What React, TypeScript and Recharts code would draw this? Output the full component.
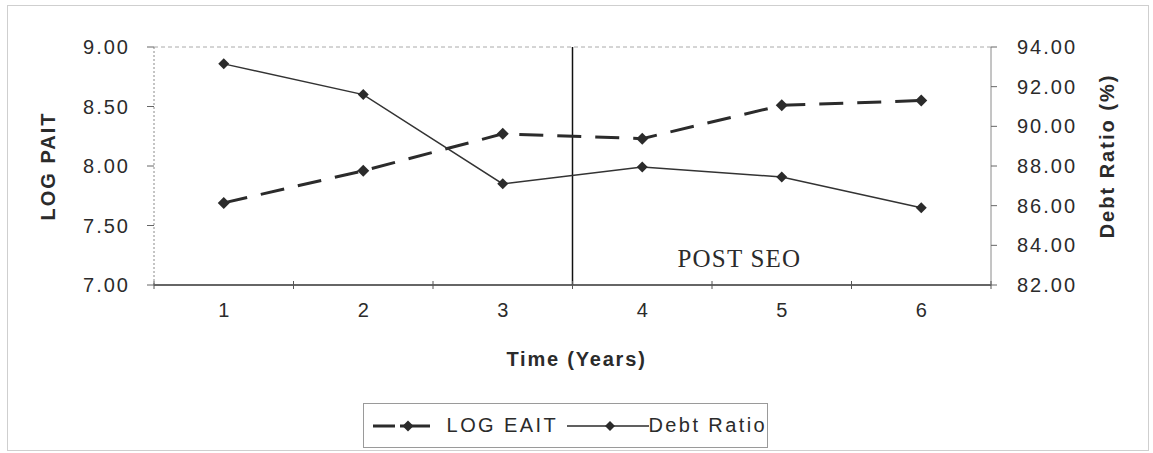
import { Legend, Line, LineChart, ReferenceLine, XAxis, YAxis } from 'recharts';

// values
const years = [1, 2, 3, 4, 5, 6];
const logEait = [7.69, 7.96, 8.27, 8.23, 8.51, 8.55];
const debtRatio = [93.15, 91.6, 87.1, 87.95, 87.45, 85.9];
const leftTicks = [7, 7.5, 8, 8.5, 9];
const rightTicks = [82, 84, 86, 88, 90, 92, 94];
const seoBoundary = 3.5;

const data = years.map((year, i) => ({ year, logEait: logEait[i], debtRatio: debtRatio[i] }));

const W = 1153;
const H = 453;
const LEFT_W = 154;
const RIGHT_W = 162;
const X_H = 168;
const STEP = (W - LEFT_W - RIGHT_W) / years.length;

const INK = '#2b2b2b';
const SANS = '"Liberation Sans", Arial, sans-serif';
const SERIF = '"Liberation Serif", "Times New Roman", serif';

function Diamond({ cx, cy, r = 5.5 }: any) {
  if (cx == null || cy == null) return null;
  return <path d={`M${cx},${cy - r}L${cx + r},${cy}L${cx},${cy + r}L${cx - r},${cy}Z`} fill={INK} />;
}

// Excel-style category ticks: marks between the categories, labels in the middle
function XTick({ x, y, payload, index }: any) {
  const half = STEP / 2;
  return (
    <g>
      <line x1={x - half} x2={x - half} y1={y - 4} y2={y + 4} stroke="#555" />
      {index === years.length - 1 && <line x1={x + half} x2={x + half} y1={y - 4} y2={y + 4} stroke="#555" />}
      <text x={x} y={y + 32} textAnchor="middle" fontFamily={SANS} fontSize={20} fill={INK}>
        {payload.value}
      </text>
    </g>
  );
}

function LegendBox() {
  return (
    <div
      style={{
        boxSizing: 'border-box',
        width: 405,
        height: 45,
        border: '1px solid #9a9a9a',
        background: '#fff',
        display: 'flex',
        alignItems: 'center',
        paddingLeft: 9,
        fontFamily: SANS,
        fontSize: 20,
        letterSpacing: 2.4,
        color: INK,
        whiteSpace: 'nowrap',
      }}
    >
      <svg width={57} height={20} style={{ display: 'block' }}>
        <line x1={0} x2={57} y1={10} y2={10} stroke={INK} strokeWidth={3} strokeDasharray="22 5 40" />
        <Diamond cx={35} cy={10} r={5.5} />
      </svg>
      <span style={{ marginLeft: 17 }}>LOG EAIT</span>
      <svg width={82} height={20} style={{ display: 'block', marginLeft: 9 }}>
        <line x1={0} x2={82} y1={10} y2={10} stroke={INK} strokeWidth={1.5} />
        <Diamond cx={43} cy={10} r={5} />
      </svg>
      <span>Debt Ratio</span>
    </div>
  );
}

const tickText = { fill: INK, fontSize: 20, fontFamily: SANS, letterSpacing: 2 };

export default function App() {
  return (
    <div style={{ position: 'absolute', left: 0, top: 0, width: W, height: H, background: '#fff' }}>
      <div
        style={{
          position: 'absolute',
          left: 7,
          top: 5,
          width: 1140,
          height: 444,
          border: '1px solid #cfcfcf',
        }}
      />
      <div style={{ position: 'absolute', left: 0, top: 0 }}>
        <LineChart width={W} height={H} data={data} margin={{ top: 47, right: 0, bottom: 0, left: 0 }}>
          <XAxis
            dataKey="year"
            type="number"
            domain={[0.5, 6.5]}
            ticks={years}
            height={X_H}
            tickSize={0}
            tickMargin={0}
            tickLine={false}
            axisLine={{ stroke: '#333', strokeWidth: 1.3 }}
            tick={(p: any) => <XTick {...p} />}
            label={{
              content: ({ viewBox }: any) => (
                <text
                  x={viewBox.x + viewBox.width / 2 + 4}
                  y={viewBox.y + 81}
                  textAnchor="middle"
                  fontFamily={SANS}
                  fontSize={20}
                  fontWeight="bold"
                  letterSpacing={1.8}
                  fill={INK}
                >
                  Time (Years)
                </text>
              ),
            }}
          />
          <YAxis
            yAxisId="left"
            domain={[7, 9]}
            ticks={leftTicks}
            width={LEFT_W}
            tickSize={7}
            tickMargin={17}
            tickFormatter={(v: number) => v.toFixed(2)}
            tick={tickText}
            tickLine={{ stroke: '#666' }}
            axisLine={{ stroke: '#8a8a8a', strokeDasharray: '2 2' }}
            label={{
              content: ({ viewBox }: any) => (
                <text
                  transform={`translate(${viewBox.x + 48}, ${viewBox.y + viewBox.height / 2}) rotate(-90)`}
                  textAnchor="middle"
                  dominantBaseline="central"
                  fontFamily={SANS}
                  fontSize={20}
                  fontWeight="bold"
                  letterSpacing={2}
                  fill={INK}
                >
                  LOG PAIT
                </text>
              ),
            }}
          />
          <YAxis
            yAxisId="right"
            orientation="right"
            domain={[82, 94]}
            ticks={rightTicks}
            width={RIGHT_W}
            tickSize={6}
            tickMargin={20}
            tickFormatter={(v: number) => v.toFixed(2)}
            tick={tickText}
            tickLine={{ stroke: '#666' }}
            axisLine={{ stroke: '#8a8a8a' }}
            label={{
              content: ({ viewBox }: any) => (
                <text
                  transform={`translate(${viewBox.x + 116}, ${viewBox.y + viewBox.height / 2 - 10}) rotate(-90)`}
                  textAnchor="middle"
                  dominantBaseline="central"
                  fontFamily={SANS}
                  fontSize={20}
                  fontWeight="bold"
                  letterSpacing={2}
                  fill={INK}
                >
                  Debt Ratio (%)
                </text>
              ),
            }}
          />
          <ReferenceLine yAxisId="left" y={9} stroke="#aaa" strokeDasharray="4 3" />
          <ReferenceLine
            yAxisId="left"
            x={seoBoundary}
            stroke="#111"
            strokeWidth={1.5}
            label={{
              content: ({ viewBox }: any) => (
                <text
                  x={viewBox.x + 105}
                  y={viewBox.y + viewBox.height - 18}
                  fontFamily={SERIF}
                  fontSize={25}
                  letterSpacing={1.2}
                  fill={INK}
                >
                  POST SEO
                </text>
              ),
            }}
          />
          <Line
            yAxisId="left"
            type="linear"
            dataKey="logEait"
            name="LOG EAIT"
            stroke={INK}
            strokeWidth={3}
            strokeDasharray="24 14"
            dot={(p: any) => <Diamond key={`e${p.index}`} cx={p.cx} cy={p.cy} r={6} />}
            activeDot={false}
            isAnimationActive={false}
          />
          <Line
            yAxisId="right"
            type="linear"
            dataKey="debtRatio"
            name="Debt Ratio"
            stroke="#333"
            strokeWidth={1.5}
            dot={(p: any) => <Diamond key={`d${p.index}`} cx={p.cx} cy={p.cy} r={5.5} />}
            activeDot={false}
            isAnimationActive={false}
          />
          <Legend
            layout="horizontal"
            verticalAlign="middle"
            align="center"
            wrapperStyle={{ left: 363, top: 403, width: 405, height: 45 }}
            content={() => <LegendBox />}
          />
        </LineChart>
      </div>
    </div>
  );
}
